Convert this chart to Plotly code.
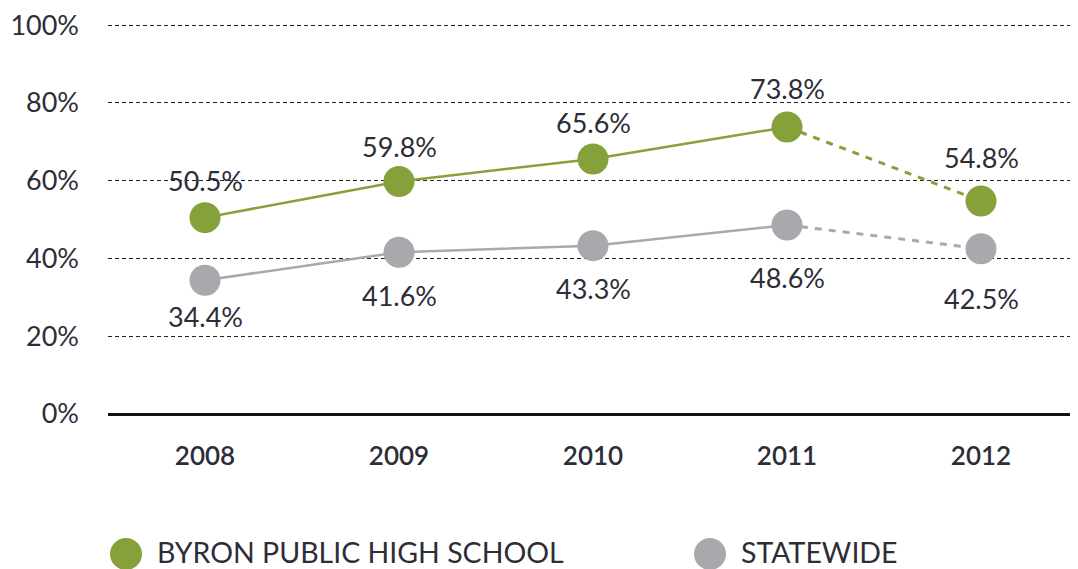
import plotly.graph_objects as go

years = ["2008", "2009", "2010", "2011", "2012"]
byron = [50.5, 59.8, 65.6, 73.8, 54.8]
statewide = [34.4, 41.6, 43.3, 48.6, 42.5]
series_names = ["BYRON PUBLIC HIGH SCHOOL", "STATEWIDE"]
y_ticks = [0, 20, 40, 60, 80, 100]
y_tick_labels = ["0%", "20%", "40%", "60%", "80%", "100%"]

# label placement (pixels above/below each point)
byron_label_shift = [37, 35, 36, 39, 43]
state_label_shift = [-36, -43, -43, -52, -50]

GREEN = "#86a03a"
GREY = "#a8a9ad"
TEXT = "#2d2d38"
FONT = "Lato"

fig = go.Figure()

for vals, color, shifts in [(byron, GREEN, byron_label_shift), (statewide, GREY, state_label_shift)]:
    fig.add_trace(go.Scatter(x=years[:4], y=vals[:4], mode="lines",
                             line=dict(color=color, width=2.5), showlegend=False, hoverinfo="skip"))
    fig.add_trace(go.Scatter(x=years[3:], y=vals[3:], mode="lines",
                             line=dict(color=color, width=3, dash="7px,7px"), showlegend=False, hoverinfo="skip"))
    fig.add_trace(go.Scatter(x=years, y=vals, mode="markers",
                             marker=dict(color=color, size=31), showlegend=False))
    for i, (yv, s) in enumerate(zip(vals, shifts)):
        fig.add_annotation(x=i, y=yv, xref="x", yref="y", text=f"{yv:.1f}%", showarrow=False, yshift=s,
                           xanchor="center", yanchor="middle",
                           font=dict(size=27, color=TEXT, family=FONT))

# manual legend (plot area: x 100..1070 in figure px, y 16..406)
legend_x = [(118 - 100) / 970, (702 - 100) / 970]
legend_y = (406 - 544) / 390
for name, color, lx in zip(series_names, [GREEN, GREY], legend_x):
    fig.add_shape(type="circle", xref="paper", yref="paper", xsizemode="pixel", ysizemode="pixel",
                  xanchor=lx, yanchor=legend_y - 2 / 390, x0=-16, x1=16, y0=-16, y1=16,
                  fillcolor=color, line=dict(width=0))
    fig.add_annotation(x=lx + 29 / 970, y=legend_y, xref="paper", yref="paper", text=name,
                       showarrow=False, xanchor="left", yanchor="middle",
                       font=dict(size=28.5, color=TEXT, family=FONT))

fig.update_layout(
    width=1070, height=561,
    margin=dict(l=100, r=0, t=16, b=155),
    paper_bgcolor="white", plot_bgcolor="white",
    font=dict(family=FONT, color=TEXT),
)
fig.update_xaxes(type="category", range=[-0.5, 4.5], showgrid=False, showline=False, ticks="",
                 tickfont=dict(size=26, color=TEXT, family=FONT, weight=600), ticklabelstandoff=24)
fig.update_yaxes(range=[0, 100.3], tickvals=y_ticks, ticktext=y_tick_labels,
                 showgrid=True, gridcolor="#222222", gridwidth=1, griddash="4px,3px",
                 zeroline=True, zerolinecolor="#111111", zerolinewidth=3,
                 ticklabeloverflow="allow",
                 tickfont=dict(size=27, color=TEXT, family=FONT), ticklabelstandoff=28, showline=False)

fig.write_html("out.html")
